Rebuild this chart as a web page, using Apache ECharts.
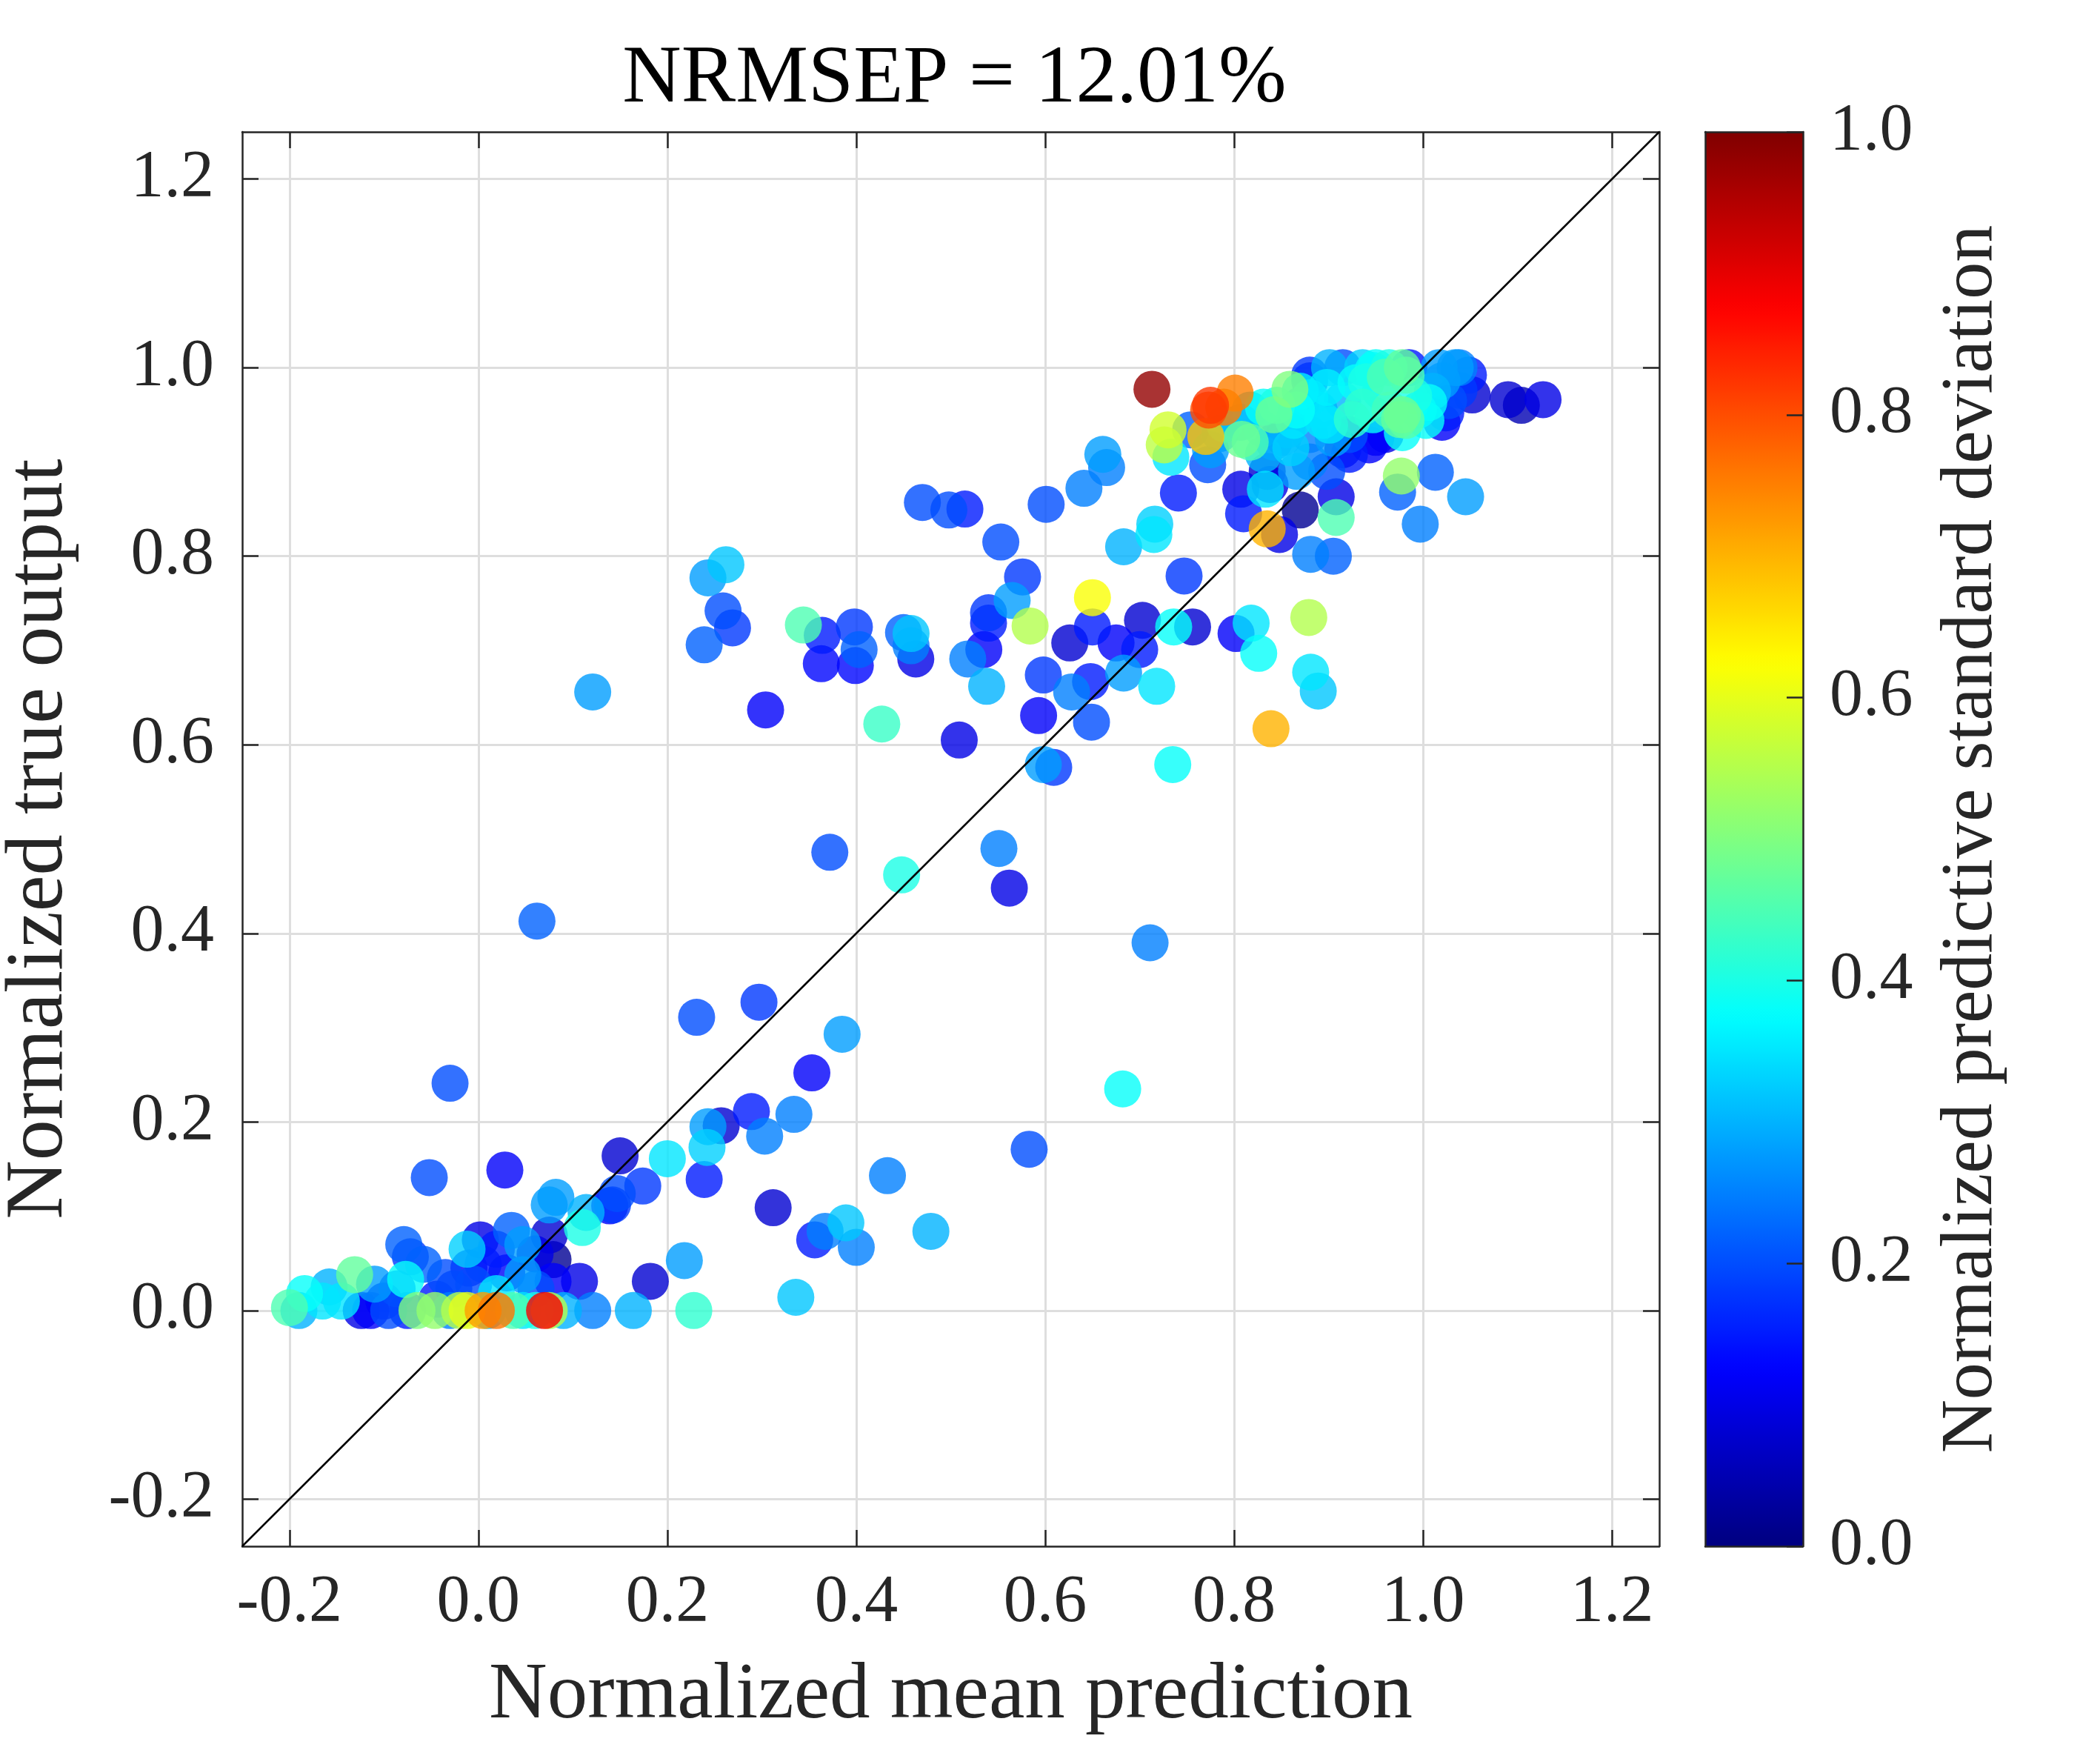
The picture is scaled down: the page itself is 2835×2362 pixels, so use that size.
<!DOCTYPE html>
<html>
<head>
<meta charset="utf-8">
<title>NRMSEP scatter</title>
<script src="https://cdn.jsdelivr.net/npm/echarts@6.0.0/dist/echarts.min.js"></script>
<style>
  html, body { margin: 0; padding: 0; background: #fff; }
  #chart { width: 2835px; height: 2362px; }
</style>
</head>
<body>
<div id="chart"></div>
<script>
// normalized mean prediction (x), true output (y), predictive std (colour)
const pred = [
  // bottom-left cluster
  -0.200, -0.190, -0.184, -0.158, -0.145, -0.131, -0.124, -0.114, -0.110, -0.086,
  -0.079, -0.072, -0.058, -0.077, -0.075, -0.065, -0.046, -0.044, -0.026, -0.012,
   0.002,  0.019,  0.005, -0.005,  0.019,  0.047,  0.047,  0.075,  0.079,  0.079,
   0.061,  0.075,  0.082,  0.107,  0.110,  0.114,  0.142,  0.121,  0.164,  0.228,
  -0.100, -0.035, -0.010,  0.030,  0.060,  0.035,  0.010,  0.060, -0.030,  0.090,
  -0.165, -0.095, -0.052,  0.028,  0.182,  0.218,
  -0.020, -0.012,  0.005,  0.019,  0.037,  0.047,  0.075,  0.070,
  // lower middle
   0.231,  0.297,  0.385,  0.353,  0.682,  0.289,  0.334,  0.243,  0.257,  0.303,
   0.242,  0.200,  0.150,  0.174,  0.147,  0.139,  0.239,  0.583,  0.433,  0.312,
   0.479,  0.356,  0.367,  0.389,  0.400,  0.336, -0.030,  0.062,  0.121,  0.372,
   0.448,  0.551,  0.562,  0.711,
  // middle band
   0.262,  0.243,  0.259,  0.269,  0.239,  0.304,  0.344,  0.364,  0.363,  0.398,
   0.403,  0.399,  0.450,  0.458,  0.463,  0.458,  0.427,  0.509,  0.553,  0.576,
   0.565,  0.540,  0.540,  0.584,  0.535,  0.518,  0.538,  0.650,  0.650,  0.626,
   0.675,  0.703,  0.700,  0.598,  0.648,  0.628,  0.683,  0.718,  0.736,  0.756,
   0.802,  0.818,  0.826,  0.879,  0.881,  0.889,  0.839,  0.593,  0.649,  0.598,
   0.609,  0.735,  0.683,  0.715,  0.716,  0.747,  0.881,  0.905,  0.835,  0.848,
   0.470,  0.498,  0.515,  0.601,  0.641,  0.661,  0.665,  0.741,
  // top-right cluster
   0.772,  0.808,  0.817,  0.842,  0.831,  0.866,  0.898,  0.852,  0.880,  0.835,
   0.838,  0.807,  0.833,  0.810,  0.870,  0.908,  0.908,  0.898,  0.922,  0.950,
   0.901,  0.936,  0.978,  0.947,  0.936,  0.978,  0.982,  1.006,  1.017,  1.038,
   1.048,  1.052,  1.024,  1.090,  1.104,  1.127,  0.977,  0.973,  1.013,  1.045,
   0.997,  0.901,  0.915,  0.950,  0.964,  0.985,  1.034,  1.020,  0.880,  0.929,
   1.027,  1.038,  1.003,  1.020,  0.982,  0.978,  0.947,  0.915,  0.894,  0.880,
   0.863,  0.856,  0.880,  0.922,  0.960,  0.943,  0.915,  0.866,  0.831,  0.842,
   0.817,  0.807,  0.754,  0.775,  0.880,  0.733,
   0.790,  0.845,  0.870,  0.890,  0.925,  0.955,  0.990,  1.010,  0.860,  0.905,
   0.940,  0.965,  0.995,  0.830,  0.785,  0.870,
   0.713,  0.801,  0.775,  0.773,  0.789,  0.730,  0.726,  0.770,  0.859,  0.960,
   0.975
];
const truth = [
   0.003,  0.000,  0.018,  0.025,  0.010,  0.038,  0.000,  0.000,  0.028,  0.023,
   0.070,  0.057,  0.049,  0.033,  0.000,  0.000,  0.000,  0.012,  0.023,  0.065,
   0.075,  0.065,  0.049,  0.028,  0.018,  0.070,  0.038,  0.080,  0.054,  0.031,
   0.023,  0.112,  0.120,  0.031,  0.088,  0.104,  0.112,  0.000,  0.000,  0.000,
   0.010,  0.035,  0.045,  0.040,  0.060,  0.085,  0.000,  0.000,  0.000,  0.000,
   0.010,  0.000,  0.141,  0.149,  0.031,  0.053,
   0.000,  0.000,  0.000,  0.000,  0.000,  0.000,  0.000,  0.000,
   0.311,  0.327,  0.293,  0.252,  0.235,  0.211,  0.208,  0.195,  0.196,  0.185,
   0.173,  0.161,  0.164,  0.132,  0.124,  0.111,  0.139,  0.171,  0.143,  0.109,
   0.084,  0.075,  0.084,  0.093,  0.067,  0.014,  0.241,  0.413,  0.656,  0.486,
   0.462,  0.490,  0.448,  0.390,
   0.791,  0.777,  0.742,  0.724,  0.706,  0.637,  0.727,  0.716,  0.686,  0.725,
   0.701,  0.684,  0.719,  0.718,  0.691,  0.705,  0.622,  0.605,  0.815,  0.778,
   0.753,  0.740,  0.729,  0.726,  0.701,  0.691,  0.662,  0.756,  0.725,  0.708,
   0.708,  0.732,  0.701,  0.674,  0.667,  0.656,  0.676,  0.662,  0.725,  0.725,
   0.718,  0.729,  0.697,  0.735,  0.677,  0.657,  0.617,  0.631,  0.624,  0.579,
   0.576,  0.579,  0.810,  0.823,  0.834,  0.779,  0.802,  0.800,  0.829,  0.823,
   0.857,  0.849,  0.850,  0.855,  0.872,  0.908,  0.894,  0.867,
   0.897,  0.924,  0.921,  0.950,  0.958,  0.955,  0.979,  0.926,  0.900,  0.890,
   0.876,  0.871,  0.871,  0.845,  0.849,  0.863,  0.841,  0.890,  0.908,  0.926,
   0.939,  0.958,  0.950,  0.997,  1.000,  1.000,  0.992,  0.963,  1.000,  1.000,
   0.992,  0.971,  0.952,  0.966,  0.960,  0.966,  0.885,  0.868,  0.889,  0.863,
   0.834,  1.000,  1.000,  1.000,  1.000,  1.000,  1.000,  0.986,  0.986,  0.984,
   0.965,  0.976,  0.944,  0.942,  0.944,  0.931,  0.950,  0.965,  0.944,  0.968,
   0.944,  0.934,  0.929,  0.929,  0.929,  0.918,  0.913,  0.890,  0.908,  0.921,
   0.955,  0.942,  0.934,  0.913,  0.992,  0.905,
   0.940,  0.960,  0.975,  0.955,  0.945,  0.975,  0.970,  0.975,  0.915,  0.925,
   0.985,  0.955,  0.955,  0.935,  0.930,  0.960,
   0.977,  0.973,  0.960,  0.955,  0.958,  0.934,  0.918,  0.927,  0.977,  0.990,
   0.945
];
const sd = [
  0.45, 0.30, 0.38, 0.30, 0.35, 0.47, 0.10, 0.12, 0.28, 0.20,
  0.22, 0.18, 0.22, 0.38, 0.15, 0.50, 0.52, 0.15, 0.18, 0.33,
  0.10, 0.15, 0.15, 0.20, 0.35, 0.28, 0.28, 0.08, 0.02, 0.12,
  0.20, 0.28, 0.28, 0.10, 0.40, 0.30, 0.18, 0.25, 0.30, 0.42,
  0.12, 0.20, 0.12, 0.12, 0.10, 0.22, 0.30, 0.40, 0.25, 0.30,
  0.35, 0.20, 0.20, 0.12, 0.08, 0.28,
  0.55, 0.60, 0.72, 0.76, 0.45, 0.35, 0.55, 0.88,
  0.20, 0.18, 0.28, 0.12, 0.38, 0.15, 0.25, 0.28, 0.08, 0.25,
  0.33, 0.35, 0.08, 0.18, 0.20, 0.12, 0.15, 0.20, 0.25, 0.08,
  0.30, 0.15, 0.25, 0.32, 0.25, 0.32, 0.20, 0.22, 0.28, 0.20,
  0.40, 0.25, 0.10, 0.25,
  0.32, 0.28, 0.20, 0.18, 0.22, 0.12, 0.45, 0.15, 0.13, 0.18,
  0.22, 0.13, 0.22, 0.32, 0.10, 0.25, 0.43, 0.10, 0.20, 0.18,
  0.28, 0.18, 0.15, 0.55, 0.12, 0.25, 0.30, 0.62, 0.15, 0.08,
  0.12, 0.08, 0.15, 0.18, 0.15, 0.25, 0.28, 0.35, 0.38, 0.08,
  0.12, 0.35, 0.38, 0.55, 0.35, 0.32, 0.70, 0.12, 0.20, 0.28,
  0.18, 0.38, 0.30, 0.35, 0.33, 0.18, 0.25, 0.22, 0.70, 0.10,
  0.20, 0.20, 0.15, 0.20, 0.25, 0.28, 0.25, 0.15,
  0.20, 0.48, 0.45, 0.48, 0.38, 0.38, 0.36, 0.25, 0.25, 0.08,
  0.10, 0.10, 0.35, 0.15, 0.02, 0.10, 0.45, 0.20, 0.15, 0.12,
  0.35, 0.42, 0.48, 0.38, 0.33, 0.47, 0.45, 0.38, 0.28, 0.25,
  0.15, 0.08, 0.15, 0.08, 0.05, 0.10, 0.52, 0.22, 0.22, 0.28,
  0.25, 0.30, 0.20, 0.38, 0.40, 0.15, 0.28, 0.28, 0.15, 0.38,
  0.20, 0.18, 0.38, 0.12, 0.46, 0.38, 0.38, 0.30, 0.35, 0.35,
  0.35, 0.28, 0.25, 0.20, 0.10, 0.12, 0.10, 0.28, 0.30, 0.25,
  0.32, 0.25, 0.22, 0.28, 0.18, 0.35,
  0.32, 0.40, 0.36, 0.30, 0.42, 0.37, 0.40, 0.30, 0.33, 0.28,
  0.40, 0.44, 0.36, 0.30, 0.28, 0.25,
  0.98, 0.75, 0.82, 0.80, 0.75, 0.58, 0.56, 0.68, 0.50, 0.45,
  0.47
];

const xLim = [-0.25, 1.25];
const yLim = [-0.25, 1.25];
const xTicks = [-0.2, 0.0, 0.2, 0.4, 0.6, 0.8, 1.0, 1.2];
const yTicks = [-0.2, 0.0, 0.2, 0.4, 0.6, 0.8, 1.0, 1.2];
const cbTicks = [0.0, 0.2, 0.4, 0.6, 0.8, 1.0];
// MATLAB jet sampled every 1/8
const jet = ['#000080', '#0000ff', '#0080ff', '#00ffff', '#80ff80',
             '#ffff00', '#ff8000', '#ff0000', '#800000'];

// high-uncertainty points drawn last so they sit on top, as in the original
const points = pred.map((x, i) => [x, truth[i], sd[i]])
  .sort((a, b) => a[2] - b[2]);
const diagonal = [[xLim[0], yLim[0]], [xLim[1], yLim[1]]];

const font = "'Liberation Serif', 'DejaVu Serif', serif";
const ink = '#262626';
const fmt = v => v.toFixed(1);

const plot = { left: 327, top: 178, width: 1913, height: 1909, outerBoundsMode: 'none', containLabel: false };
const bar = { left: 2302, top: 178, width: 132, height: 1909, outerBoundsMode: 'none', containLabel: false };

const frameLine = { show: true, onZero: false, lineStyle: { color: ink, width: 2.5 } };
const labelStyle = { fontFamily: font, fontSize: 90, color: ink };
const nameStyle = size => ({ fontFamily: font, fontSize: size, color: ink });
const grid = { show: true, lineStyle: { color: '#dedede', width: 3 } };
const bare = { axisLine: frameLine, axisTick: { show: false }, axisLabel: { show: false }, splitLine: { show: false } };

function tickAxis(ticks, extra) {
  return Object.assign({
    type: 'value',
    axisLine: frameLine,
    axisTick: { show: true, inside: true, length: 22, customValues: ticks,
                lineStyle: { color: ink, width: 2.5 } },
    axisLabel: { show: false },
    splitLine: { show: false }
  }, extra);
}

const chart = echarts.init(document.getElementById('chart'), null, { width: 2835, height: 2362 });

chart.setOption({
  animation: false,
  backgroundColor: '#ffffff',
  title: {
    text: 'NRMSEP = 12.01%',
    left: plot.left + plot.width / 2,
    textAlign: 'center',
    top: 48,
    textStyle: { fontFamily: font, fontSize: 110, fontWeight: 'normal', color: '#000' }
  },
  grid: [plot, bar],
  xAxis: [
    tickAxis(xTicks, {
      gridIndex: 0, position: 'bottom', min: xLim[0], max: xLim[1],
      axisLabel: Object.assign({ show: true, customValues: xTicks, formatter: fmt, margin: 32 }, labelStyle),
      splitLine: grid,
      name: 'Normalized mean prediction', nameLocation: 'middle', nameGap: 148,
      nameTextStyle: nameStyle(109)
    }),
    tickAxis(xTicks, { gridIndex: 0, position: 'top', min: xLim[0], max: xLim[1] }),
    Object.assign({ type: 'value', gridIndex: 1, position: 'bottom', min: 0, max: 1, z: 10 }, bare),
    Object.assign({ type: 'value', gridIndex: 1, position: 'top', min: 0, max: 1, z: 10 }, bare)
  ],
  yAxis: [
    tickAxis(yTicks, {
      gridIndex: 0, position: 'left', min: yLim[0], max: yLim[1],
      axisLabel: Object.assign({ show: true, customValues: yTicks, formatter: fmt, margin: 38 }, labelStyle),
      splitLine: grid,
      name: 'Normalized true output', nameLocation: 'middle', nameRotate: 90, nameGap: 218,
      nameTextStyle: nameStyle(110)
    }),
    tickAxis(yTicks, { gridIndex: 0, position: 'right', min: yLim[0], max: yLim[1] }),
    tickAxis(cbTicks, {
      gridIndex: 1, position: 'right', min: 0, max: 1, z: 10,
      axisLabel: Object.assign({ show: true, customValues: cbTicks, formatter: fmt, margin: 36 }, labelStyle),
      name: 'Normalized predictive standard deviation', nameLocation: 'middle', nameRotate: 90,
      nameGap: 178, nameTextStyle: nameStyle(100)
    }),
    Object.assign({ type: 'value', gridIndex: 1, position: 'left', min: 0, max: 1, z: 10 }, bare)
  ],
  visualMap: {
    type: 'continuous',
    seriesIndex: 0,
    dimension: 2,
    min: 0,
    max: 1,
    orient: 'vertical',
    left: bar.left,
    top: bar.top,
    itemWidth: bar.width,
    itemHeight: bar.height,
    padding: 0,
    calculable: false,
    hoverLink: false,
    inRange: { color: jet }
  },
  series: [
    {
      type: 'scatter',
      xAxisIndex: 0,
      yAxisIndex: 0,
      symbol: 'circle',
      symbolSize: 50,
      itemStyle: { opacity: 0.8 },
      data: points,
      z: 2
    },
    {
      type: 'line',
      xAxisIndex: 0,
      yAxisIndex: 0,
      data: diagonal,
      symbol: 'none',
      silent: true,
      lineStyle: { color: '#000', width: 2.5 },
      z: 3
    }
  ]
});
</script>
</body>
</html>
